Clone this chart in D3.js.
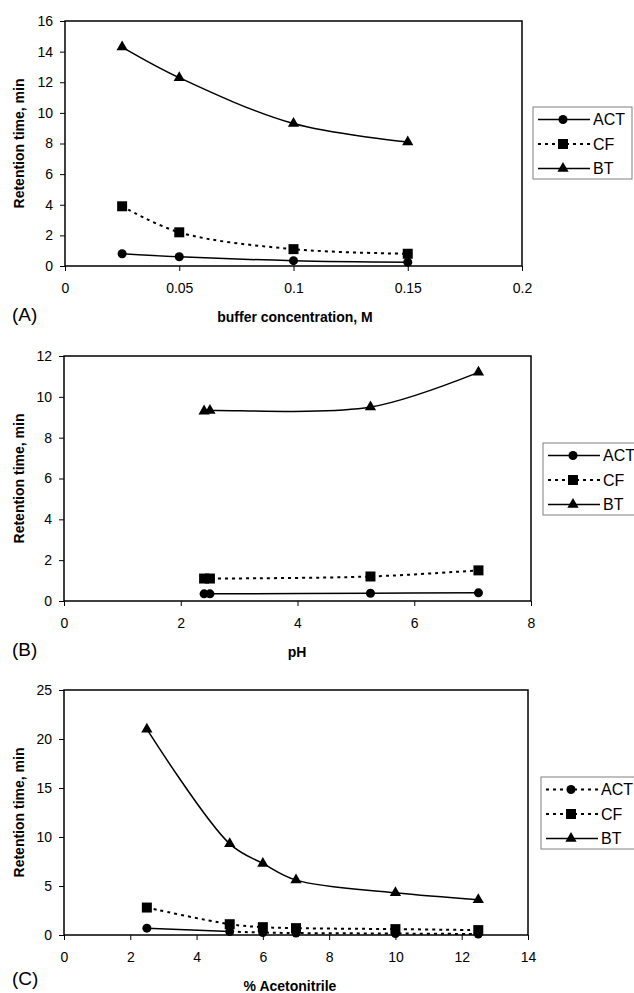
<!DOCTYPE html>
<html lang="en">
<head>
    <meta charset="UTF-8">
    <title>Retention time</title>
    <style>
        body {
            margin: 0;
            padding: 0;
            background-color: #ffffff;
            font-family: 'Liberation Sans', Arial, sans-serif;
        }
        svg {
            display: block;
        }
    </style>
</head>
<body>
    <svg id="chart" width="634" height="993"></svg>
    <script src="https://d3js.org/d3.v7.min.js"></script>
    <script>
        // (A) buffer concentration, M
        const bufferConc = [0.025, 0.05, 0.1, 0.15];
        const actA = [0.8, 0.6, 0.35, 0.25];
        const cfA = [3.9, 2.2, 1.1, 0.8];
        const btA = [14.3, 12.3, 9.3, 8.1];
        const xTicksA = [0, 0.05, 0.1, 0.15, 0.2];
        const yTicksA = [0, 2, 4, 6, 8, 10, 12, 14, 16];

        // (B) pH
        const pH = [2.4, 2.5, 5.25, 7.1];
        const actB = [0.35, 0.35, 0.38, 0.4];
        const cfB = [1.1, 1.1, 1.2, 1.5];
        const btB = [9.3, 9.33, 9.5, 11.2];
        const xTicksB = [0, 2, 4, 6, 8];
        const yTicksB = [0, 2, 4, 6, 8, 10, 12];

        // (C) % acetonitrile
        const acetonitrile = [2.5, 5, 6, 7, 10, 12.5];
        const actC = [0.7, 0.35, 0.25, 0.2, 0.15, 0.1];
        const cfC = [2.8, 1.1, 0.8, 0.7, 0.6, 0.5];
        const btC = [21, 9.3, 7.3, 5.6, 4.3, 3.6];
        const xTicksC = [0, 2, 4, 6, 8, 10, 12, 14];
        const yTicksC = [0, 5, 10, 15, 20, 25];
        // in the original the first ACT segment of (C) is solid, the rest dotted
        const actCSegments = ["solid", "dot", "dot", "dot", "dot"];

        const seriesNames = ["ACT", "CF", "BT"];
        const dotted = "3,4";

        const svg = d3.select("#chart");

        const panels = [
            {
                letter: "(A)", title: "buffer concentration, M",
                box: {left: 65, right: 522, top: 21, bottom: 266},
                xDomain: [0, 0.2], yDomain: [0, 16], xTicks: xTicksA, yTicks: yTicksA,
                xs: bufferConc,
                series: [
                    {name: "ACT", values: actA, symbol: d3.symbolCircle, size: 64, legendDash: null},
                    {name: "CF", values: cfA, symbol: d3.symbolSquare, size: 100, legendDash: dotted},
                    {name: "BT", values: btA, symbol: d3.symbolTriangle, size: 55, legendDash: null}
                ],
                legend: {x: 533, y: 107},
                letterPos: [12, 321], titlePos: [295, 322]
            },
            {
                letter: "(B)", title: "pH",
                box: {left: 64, right: 531, top: 356, bottom: 601},
                xDomain: [0, 8], yDomain: [0, 12], xTicks: xTicksB, yTicks: yTicksB,
                xs: pH,
                series: [
                    {name: "ACT", values: actB, symbol: d3.symbolCircle, size: 64, legendDash: null},
                    {name: "CF", values: cfB, symbol: d3.symbolSquare, size: 100, legendDash: dotted},
                    {name: "BT", values: btB, symbol: d3.symbolTriangle, size: 55, legendDash: null}
                ],
                legend: {x: 543, y: 443},
                letterPos: [12, 656], titlePos: [297, 657]
            },
            {
                letter: "(C)", title: "% Acetonitrile",
                box: {left: 64, right: 528, top: 690, bottom: 935},
                xDomain: [0, 14], yDomain: [0, 25], xTicks: xTicksC, yTicks: yTicksC,
                xs: acetonitrile,
                series: [
                    {name: "ACT", values: actC, symbol: d3.symbolCircle, size: 64, legendDash: dotted, segments: actCSegments},
                    {name: "CF", values: cfC, symbol: d3.symbolSquare, size: 100, legendDash: dotted},
                    {name: "BT", values: btC, symbol: d3.symbolTriangle, size: 55, legendDash: null}
                ],
                legend: {x: 541, y: 777},
                letterPos: [12, 985], titlePos: [290, 991]
            }
        ];

        panels.forEach((p, pi) => {
            const b = p.box;
            const x = d3.scaleLinear().domain(p.xDomain).range([b.left, b.right]);
            const y = d3.scaleLinear().domain(p.yDomain).range([b.bottom, b.top]);
            const g = svg.append("g");

            // axes
            const yAxis = g.append("g")
                .attr("transform", `translate(${b.left},0)`)
                .call(d3.axisLeft(y).tickValues(p.yTicks).tickSize(5).tickPadding(7).tickSizeOuter(0));
            const xAxis = g.append("g")
                .attr("transform", `translate(0,${b.bottom})`)
                .call(d3.axisBottom(x).tickValues(p.xTicks).tickSize(5).tickPadding(12).tickSizeOuter(0)
                    .tickFormat(d => String(d)));
            [yAxis, xAxis].forEach(a => {
                a.attr("font-family", "'Liberation Sans', Arial, sans-serif").attr("font-size", 14);
                a.select(".domain").remove();
                a.selectAll(".tick line").attr("stroke", "#000");
                a.selectAll(".tick text").attr("fill", "#000");
            });

            // plot area frame
            g.append("rect")
                .attr("x", b.left).attr("y", b.top)
                .attr("width", b.right - b.left).attr("height", b.bottom - b.top)
                .attr("fill", "none").attr("stroke", "#000").attr("stroke-width", 1.5);

            const line = d3.line()
                .x((d, i) => x(p.xs[i]))
                .y(d => y(d))
                .curve(d3.curveCatmullRom.alpha(0.5));

            p.series.forEach((s, si) => {
                const dash = s.legendDash;
                if (s.segments) {
                    s.segments.forEach((seg, k) => {
                        const id = `clip-${pi}-${si}-${k}`;
                        svg.append("clipPath").attr("id", id)
                            .append("rect")
                            .attr("x", x(p.xs[k])).attr("y", b.top - 20)
                            .attr("width", x(p.xs[k + 1]) - x(p.xs[k]))
                            .attr("height", b.bottom - b.top + 40);
                        g.append("path")
                            .attr("d", line(s.values))
                            .attr("clip-path", `url(#${id})`)
                            .attr("fill", "none").attr("stroke", "#000")
                            .attr("stroke-width", seg === "solid" ? 1.5 : 2)
                            .attr("stroke-dasharray", seg === "solid" ? null : dotted);
                    });
                } else {
                    g.append("path")
                        .attr("d", line(s.values))
                        .attr("fill", "none").attr("stroke", "#000")
                        .attr("stroke-width", dash ? 2 : 1.5)
                        .attr("stroke-dasharray", dash);
                }
                g.selectAll(null)
                    .data(s.values)
                    .enter()
                    .append("path")
                    .attr("d", d3.symbol().type(s.symbol).size(s.size))
                    .attr("transform", (d, i) => `translate(${x(p.xs[i])},${y(d)})`)
                    .attr("fill", "#000");
            });

            // legend
            const lg = g.append("g").attr("transform", `translate(${p.legend.x},${p.legend.y})`);
            lg.append("rect")
                .attr("width", 99).attr("height", 72)
                .attr("fill", "#fff").attr("stroke", "#808080").attr("stroke-width", 1);
            p.series.forEach((s, i) => {
                const ly = 12.5 + i * 24.5;
                lg.append("line")
                    .attr("x1", 5).attr("x2", 57).attr("y1", ly).attr("y2", ly)
                    .attr("stroke", "#000")
                    .attr("stroke-width", s.legendDash ? 2 : 1.5)
                    .attr("stroke-dasharray", s.legendDash);
                lg.append("path")
                    .attr("d", d3.symbol().type(s.symbol).size(s.size))
                    .attr("transform", `translate(30,${ly})`)
                    .attr("fill", "#000");
                lg.append("text")
                    .attr("x", 60).attr("y", ly).attr("dy", "0.36em")
                    .attr("font-size", 16)
                    .text(s.name);
            });

            // axis titles and panel letter
            g.append("text")
                .attr("transform", `translate(24,${(b.top + b.bottom) / 2}) rotate(-90)`)
                .attr("text-anchor", "middle")
                .attr("font-size", 14).attr("font-weight", "bold")
                .text("Retention time, min");
            g.append("text")
                .attr("x", p.titlePos[0]).attr("y", p.titlePos[1])
                .attr("text-anchor", "middle")
                .attr("font-size", 14).attr("font-weight", "bold")
                .text(p.title);
            g.append("text")
                .attr("x", p.letterPos[0]).attr("y", p.letterPos[1])
                .attr("font-size", 19)
                .text(p.letter);
        });
    </script>
</body>
</html>
